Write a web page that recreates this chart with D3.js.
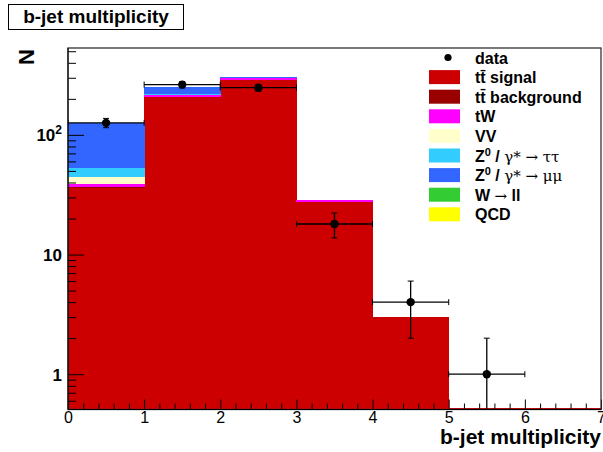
<!DOCTYPE html>
<html><head><meta charset="utf-8">
<script src="https://cdn.jsdelivr.net/npm/d3@7"></script>
<style>body{margin:0;background:#fff} text{font-family:"Liberation Sans",Arial,sans-serif}</style>
</head><body><svg id="c" width="603" height="452"></svg>
<script>
// ---- data ----
const binEdges = [0,1,2,3,4,5,6,7];
const dataCounts = [126, 263, 248, 18, 4, 1, 0];
const ttSignal = [36.5, 207, 289, 27.8, 3.0, 0, 0];
const ttBackground = [0.4, 1, 1, 0.1, 0, 0, 0];
const tW = [2.4, 10, 10, 0.6, 0, 0, 0];
const VV = [5.2, 1, 0.5, 0, 0, 0, 0];
const Ztautau = [9.1, 2, 0.5, 0, 0, 0, 0];
const Zmumu = [73, 30, 4, 0, 0, 0, 0];
const Wll = [0, 0, 0, 0, 0, 0, 0];
const QCD = [0, 0, 0, 0, 0, 0, 0];
const xTickLabels = ["0","1","2","3","4","5","6","7"];
const yTickValues = [1, 10, 100];

const series = [
  {key:"sig", values:ttSignal, color:"#cc0000"},
  {key:"bkg", values:ttBackground, color:"#990000"},
  {key:"tW", values:tW, color:"#ff00ff"},
  {key:"VV", values:VV, color:"#ffffcc"},
  {key:"tt", values:Ztautau, color:"#33ccff"},
  {key:"mm", values:Zmumu, color:"#3366ff"},
  {key:"W", values:Wll, color:"#33cc33"},
  {key:"QCD", values:QCD, color:"#ffff00"}
];

const svg = d3.select("#c");
const L=68, R=601, T=48, B=409.5;
const x = d3.scaleLinear().domain([0,7]).range([L,R]);
const y = d3.scaleLog().domain([0.507, 532]).range([B,T]);
const yc = v => v<=0 ? B : Math.min(B, y(v));

svg.append("defs").append("clipPath").attr("id","pc")
  .append("rect").attr("x",L).attr("y",T).attr("width",R-L).attr("height",B-T);

// stack
const rows = binEdges.slice(0,7).map((b,i)=>{const o={bin:b}; series.forEach(s=>o[s.key]=s.values[i]); return o;});
const stack = d3.stack().keys(series.map(s=>s.key))(rows);
const g = svg.append("g").attr("clip-path","url(#pc)").attr("shape-rendering","crispEdges");
stack.forEach((layer,li)=>{
  g.selectAll(null).data(layer.filter(d=>d[1]-d[0]>0)).enter().append("rect")
    .attr("x",d=>x(d.data.bin)).attr("width",d=>x(d.data.bin+1)-x(d.data.bin)+0.6)
    .attr("y",d=>yc(d[1])).attr("height",d=>yc(d[0])-yc(d[1])+0.4)
    .attr("fill",series[li].color);
});
// zero-content outline along the bottom
const zeroBins = rows.filter(r=>series.reduce((a,s)=>a+r[s.key],0)===0);
g.selectAll(null).data(zeroBins).enter().append("line")
  .attr("x1",d=>x(d.bin)).attr("x2",d=>x(d.bin+1)).attr("y1",B).attr("y2",B)
  .attr("stroke","#cc0000").attr("stroke-width",3);

// axes
const xMinor = d3.range(0,7.01,0.2).filter(v=>Math.abs(v-Math.round(v))>1e-6);
svg.append("g").attr("transform",`translate(0,${B})`)
  .call(d3.axisBottom(x).tickValues(xMinor).tickSize(-6).tickFormat(""))
  .call(a=>a.select(".domain").remove());
const xa = svg.append("g").attr("transform",`translate(0,${B})`)
  .call(d3.axisBottom(x).tickValues(binEdges).tickSize(-10).tickPadding(16).tickFormat((d,i)=>xTickLabels[i]));
xa.select(".domain").remove();
xa.selectAll("text").attr("font-size",16).attr("fill","#000").attr("dy","-0.15em");

const yMinor = [];
[0.1,1,10,100].forEach(dec=>{for(let k=2;k<=9;k++){const v=k*dec; if(v>0.507 && v<532) yMinor.push(v);}});
svg.append("g").attr("transform",`translate(${L},0)`)
  .call(d3.axisLeft(y).tickValues(yMinor).tickSize(-8).tickFormat(""))
  .call(a=>a.select(".domain").remove());
const ya = svg.append("g").attr("transform",`translate(${L},0)`)
  .call(d3.axisLeft(y).tickValues(yTickValues).tickSize(-16).tickPadding(6).tickFormat(""));
ya.select(".domain").remove();
ya.selectAll(".tick").each(function(d){
  const t = d3.select(this).append("text").attr("x",-6).attr("y",6).attr("text-anchor","end")
    .attr("font-size",17).attr("font-weight","bold").attr("fill","#000");
  if(d===100){ t.append("tspan").text("10"); t.append("tspan").attr("dy",-7).attr("font-size",12).text("2"); }
  else t.text(d3.format("d")(d));
});
svg.selectAll(".tick line").attr("stroke","#000");

// frame
svg.append("rect").attr("x",L).attr("y",T).attr("width",R-L).attr("height",B-T)
  .attr("fill","none").attr("stroke","#333").attr("stroke-width",1.3);
svg.append("line").attr("x1",L).attr("x2",L).attr("y1",T).attr("y2",B).attr("stroke","#000");
svg.append("line").attr("x1",L).attr("x2",R).attr("y1",B).attr("y2",B).attr("stroke","#000");

// data points
const pts = binEdges.slice(0,7).map((b,i)=>({c:b+0.5,lo:b,hi:b+1,n:dataCounts[i]})).filter(d=>d.n>0);
const dg = svg.append("g").attr("clip-path","url(#pc)");
pts.forEach(d=>{
  const e=Math.sqrt(d.n), cy=y(d.n);
  dg.append("line").attr("x1",x(d.lo)).attr("x2",x(d.hi)).attr("y1",cy).attr("y2",cy).attr("stroke","#000").attr("stroke-width",1.3);
  [d.lo,d.hi].forEach(v=>dg.append("line").attr("x1",x(v)).attr("x2",x(v)).attr("y1",cy-3).attr("y2",cy+3).attr("stroke","#000"));
  const yt=yc(d.n+e), yb=yc(d.n-e);
  dg.append("line").attr("x1",x(d.c)).attr("x2",x(d.c)).attr("y1",yt).attr("y2",yb).attr("stroke","#000").attr("stroke-width",1.3);
  [yt,yb].forEach(v=>{ if(v<B) dg.append("line").attr("x1",x(d.c)-3).attr("x2",x(d.c)+3).attr("y1",v).attr("y2",v).attr("stroke","#000");});
  dg.append("circle").attr("cx",x(d.c)).attr("cy",cy).attr("r",4.2).attr("fill","#000");
});

// legend
const legendRows = [
  {type:"dot"},
  {s:0, parts:[["t","b"],["t\u0304","b"],[" signal","b"]]},
  {s:1, parts:[["t","b"],["t\u0304","b"],[" background","b"]]},
  {s:2, parts:[["tW","b"]]},
  {s:3, parts:[["VV","b"]]},
  {s:4, parts:[["Z","b"],["0","sup"],[" / ","b"],["\u03b3","n"],["*","n"],[" \u2192 \u03c4\u03c4","n"]]},
  {s:5, parts:[["Z","b"],["0","sup"],[" / ","b"],["\u03b3","n"],["*","n"],[" \u2192 \u03bc\u03bc","n"]]},
  {s:6, parts:[["W ","b"],["\u2192","n"],[" ll","b"]]},
  {s:7, parts:[["QCD","b"]]}
];
const lg = svg.append("g");
legendRows.forEach((r,i)=>{
  const cy = 57.5 + i*19.6;
  if(r.type==="dot") lg.append("circle").attr("cx",448).attr("cy",cy).attr("r",3.6).attr("fill","#000");
  else lg.append("rect").attr("x",429).attr("y",cy-7).attr("width",31).attr("height",14).attr("fill",series[r.s].color);
  const t = lg.append("text").attr("x",475).attr("y",cy+6).attr("font-size",16).attr("fill","#000");
  const parts = r.type==="dot" ? [["data","b"]] : r.parts;
  let prevSup=false;
  parts.forEach(p=>{
    const ts = t.append("tspan").text(p[0]);
    if(p[1]==="b") ts.attr("font-weight","bold");
    if(p[1]==="n") ts.attr("font-weight","normal").attr("font-family","'DejaVu Serif',serif").attr("font-size",15);
    if(p[1]==="sup"){ ts.attr("font-weight","bold").attr("font-size",11).attr("dy",-6); prevSup=true; }
    else if(prevSup){ ts.attr("dy",6); prevSup=false; }
  });
});

// titles
svg.append("rect").attr("x",8.5).attr("y",4.5).attr("width",175).attr("height",25).attr("fill","#fff").attr("stroke","#000");
svg.append("text").attr("x",96).attr("y",23).attr("text-anchor","middle").attr("font-size",19).attr("font-weight","bold").text("b-jet multiplicity");
svg.append("text").attr("x",R).attr("y",444).attr("text-anchor","end").attr("font-size",21).attr("font-weight","bold").text("b-jet multiplicity");
svg.append("text").attr("transform","translate(34,57) rotate(-90)").attr("text-anchor","middle")
  .attr("font-size",22).attr("font-weight","bold").text("N");
</script></body></html>
